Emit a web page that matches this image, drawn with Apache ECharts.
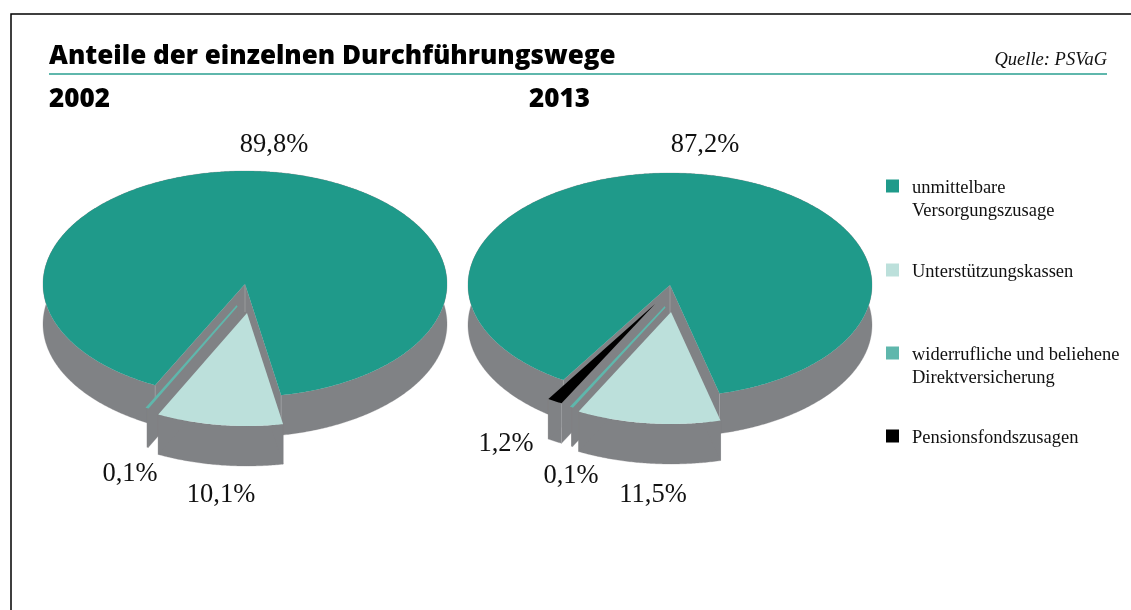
<!DOCTYPE html>
<html>
<head>
<meta charset="utf-8">
<style>html,body{margin:0;padding:0;background:#fff}#c{width:1131px;height:610px}</style>
<script src="https://cdn.jsdelivr.net/npm/echarts@6/dist/echarts.min.js"></script>
</head>
<body>
<div id="c"></div>
<script>
// ---- data ----
const categories = ['unmittelbare\nVersorgungszusage', 'Unterstützungskassen', 'widerrufliche und beliehene\nDirektversicherung', 'Pensionsfondszusagen'];
const years = ['2002', '2013'];
const values2002 = [89.8, 10.1, 0.1, null];
const values2013 = [87.2, 11.5, 0.1, 1.2];
const chartTitle = 'Anteile der einzelnen Durchführungswege';
const sourceNote = 'Quelle: PSVaG';

// ---- styles and layout ----
const colors = ['#1f9a8a', '#bce0db', '#5fb7ac', '#000000'];
const wallColor = '#808285';
const edgeColor = '#a9abae';
const serif = '"Liberation Serif", serif';
const clockwiseOrder = [1, 2, 3, 0];   // order of slices clockwise from the start angle
const drawOrder = [0, 3, 2, 1];
const pies = [
  { cx: 245, cy: 284, rx: 202, ry: 113, depth: 40, start: -10.3,
    offsets: [[0, 0], [2, 29], [-8, 22], [0, 0]],
    labels: [[274, 145], [221, 495], [130, 474], [0, 0]] },
  { cx: 670, cy: 285, rx: 202, ry: 112, depth: 40, start: -14.2,
    offsets: [[0, 0], [1, 27], [-5, 22], [-15, 19]],
    labels: [[705, 145], [653, 495], [571, 476], [506, 444]] }
];
const legendRows = [186, 270, 353, 436];

function fmt(v) { return String(v).replace('.', ',') + '%'; }

function makePie(values, pie) {
  // angular extents derived from the values
  const total = values.reduce((a, b) => a + (b || 0), 0);
  const extent = {};
  let a = pie.start;
  clockwiseOrder.forEach(i => {
    if (values[i] == null) return;
    const sweep = values[i] / total * 360;
    extent[i] = [a, a + sweep];
    a += sweep;
  });
  const data = drawOrder.filter(i => values[i] != null).map(i => ({ value: values[i], name: categories[i].replace('\n', ' '), catIndex: i }));
  return {
    type: 'custom',
    coordinateSystem: 'none',
    silent: true,
    animation: false,
    data: data,
    renderItem: function (params) {
      const i = data[params.dataIndex].catIndex;
      const ext = extent[i];
      const ox = pie.cx + pie.offsets[i][0], oy = pie.cy + pie.offsets[i][1];
      const pt = t => {
        const r = t * Math.PI / 180;
        return [ox - pie.rx * Math.sin(r), oy + pie.ry * Math.cos(r)];
      };
      const d = pie.depth;
      const arc = [];
      const n = Math.max(2, Math.ceil((ext[1] - ext[0]) / 0.5));
      for (let k = 0; k <= n; k++) arc.push(pt(ext[0] + (ext[1] - ext[0]) * k / n));
      const down = p => [p[0], p[1] + d];
      const first = arc[0], last = arc[arc.length - 1];
      const apex = [ox, oy];
      const wall = pts => ({ type: 'polygon', shape: { points: pts }, style: { fill: wallColor, stroke: wallColor, lineWidth: 0.3 } });
      const edge = (p, q) => ({ type: 'line', shape: { x1: p[0], y1: p[1], x2: q[0], y2: q[1] }, style: { stroke: edgeColor, lineWidth: 0.6 } });
      const children = [
        wall(arc.concat(arc.slice().reverse().map(down))),
        wall([apex, first, down(first), down(apex)]),
        wall([apex, last, down(last), down(apex)]),
      ];
      if (i === 0) children.push(edge(first, down(first)), edge(last, down(last)), edge(apex, [apex[0], apex[1] + 28]));
      if (i === 3) children.push(edge(first, down(first)));
      const thin = values[i] < 1;
      children.push({
        type: 'polygon',
        shape: { points: [apex].concat(arc) },
        style: thin ? { fill: colors[i], stroke: colors[i], lineWidth: 1.8 } : { fill: colors[i] }
      });
      children.push({
        type: 'text',
        style: {
          x: pie.labels[i][0], y: pie.labels[i][1], text: fmt(values[i]),
          font: '26.5px ' + serif, fill: '#111', align: 'center', verticalAlign: 'middle'
        }
      });
      return { type: 'group', children: children };
    }
  };
}

const headingFont = '"Open Sans", Lato, sans-serif';
const graphicEls = [
  { type: 'rect', shape: { x: 11, y: 14, width: 1200, height: 700 }, style: { fill: 'none', stroke: '#000', lineWidth: 1.5 }, silent: true },
  { type: 'line', shape: { x1: 49, y1: 74, x2: 1107, y2: 74 }, style: { stroke: '#5fb7ac', lineWidth: 2 }, silent: true }
];
categories.forEach((c, i) => {
  graphicEls.push({ type: 'rect', shape: { x: 886, y: legendRows[i] - 6.5, width: 13, height: 13 }, style: { fill: colors[i] }, silent: true });
  graphicEls.push({ type: 'text', style: { x: 912, y: legendRows[i] - 9, text: c, font: '18.5px ' + serif, lineHeight: 22.5, fill: '#111', align: 'left', verticalAlign: 'top' }, silent: true });
});

const chart = echarts.init(document.getElementById('c'), null, { renderer: 'canvas' });
chart.setOption({
  animation: false,
  backgroundColor: '#fff',
  title: [
    { text: chartTitle, left: 49, top: 44, padding: 0, textStyle: { fontFamily: headingFont, fontWeight: 800, fontSize: 26, color: '#000' } },
    { text: years[0], left: 49, top: 87, padding: 0, textStyle: { fontFamily: headingFont, fontWeight: 800, fontSize: 26, color: '#000' } },
    { text: years[1], left: 529, top: 87, padding: 0, textStyle: { fontFamily: headingFont, fontWeight: 800, fontSize: 26, color: '#000' } },
    { text: sourceNote, right: 24, top: 51, padding: 0, textStyle: { fontFamily: serif, fontStyle: 'italic', fontWeight: 'normal', fontSize: 18.5, color: '#111' } }
  ],
  graphic: graphicEls,
  series: [makePie(values2002, pies[0]), makePie(values2013, pies[1])]
});
</script>
</body>
</html>
